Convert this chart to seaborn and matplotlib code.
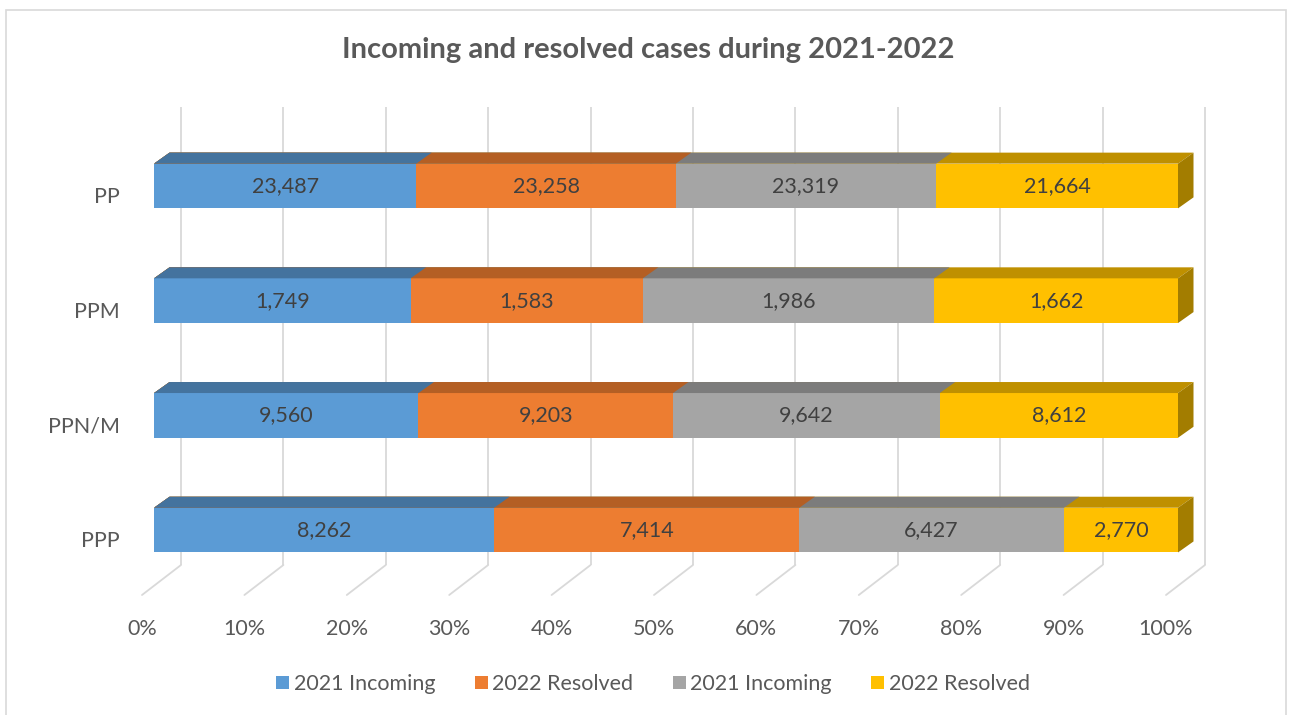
import numpy as np
import pandas as pd
import seaborn as sns
import matplotlib.pyplot as plt
import matplotlib.transforms as mtransforms
from matplotlib.patches import Polygon, Rectangle

categories = ['PP', 'PPM', 'PPN/M', 'PPP']
series_names = ['2021 Incoming', '2022 Resolved', '2021 Incoming', '2022 Resolved']
incoming_2021 = [23487, 1749, 9560, 8262]
resolved_2022 = [23258, 1583, 9203, 7414]
incoming_2021_b = [23319, 1986, 9642, 6427]
resolved_2022_b = [21664, 1662, 8612, 2770]
x_ticks = [0, 0.1, 0.2, 0.3, 0.4, 0.5, 0.6, 0.7, 0.8, 0.9, 1.0]
x_ticklabels = ['0%', '10%', '20%', '30%', '40%', '50%', '60%', '70%', '80%', '90%', '100%']

front_colors = ['#5B9BD5', '#ED7D31', '#A5A5A5', '#FFC000']
top_colors = ['#44739E', '#B45F24', '#7C7C7C', '#BF9000']
side_color = '#A37D00'
grid_color = '#D9D9D9'

sns.set_style('white')
plt.rcParams['font.family'] = ['Lato', 'DejaVu Sans']

vals = np.array([incoming_2021, resolved_2022, incoming_2021_b, resolved_2022_b], dtype=float).T
pct = vals / vals.sum(axis=1, keepdims=True)
cum = pct.cumsum(axis=1)
df = pd.DataFrame(cum, columns=['s0', 's1', 's2', 's3'])
df['cat'] = categories

#%% layout (pixels)
W, H = 1289, 715
px_cat = 114.7          # pixels between category rows
y0_px = 186             # screen y of first row centre
y_top, y_bot = -0.72, 3.62
ax_top_px = y0_px + y_top * px_cat
ax_bot_px = y0_px + y_bot * px_cat

fig = plt.figure(figsize=(W / 100, H / 100), dpi=100)
ax = fig.add_axes([154 / W, 1 - ax_bot_px / H, 1024 / W, (ax_bot_px - ax_top_px) / H])

def dx(px):
    return px / 1024.0

def dy(px):  # px upwards on screen -> data (inverted axis)
    return -px / px_cat

depth = (15.5, 11)      # bar depth
back = (27, 21)         # back wall offset from bar front
floor = (-12, -9)       # floor front edge offset

# stacked bars, largest cumulative first
for k in reversed(range(4)):
    n0 = len(ax.patches)
    sns.barplot(data=df, x='s%d' % k, y='cat', orient='h', color=front_colors[k],
                saturation=1, width=0.39, ax=ax, zorder=3)
    for p in ax.patches[n0:]:
        p.set_edgecolor('none')
        x0, yy, w, h = p.get_x(), p.get_y(), p.get_width(), p.get_height()
        top = yy
        poly = [(x0, top), (x0 + w, top), (x0 + w + dx(depth[0]), top + dy(depth[1])),
                (x0 + dx(depth[0]), top + dy(depth[1]))]
        ax.add_patch(Polygon(poly, closed=True, facecolor=top_colors[k], edgecolor='none',
                             zorder=3, clip_on=False))
        if k == 3:
            bot = yy + h
            side = [(x0 + w, top), (x0 + w, bot), (x0 + w + dx(depth[0]), bot + dy(depth[1])),
                    (x0 + w + dx(depth[0]), top + dy(depth[1]))]
            ax.add_patch(Polygon(side, closed=True, facecolor=side_color, edgecolor='none',
                                 zorder=3, clip_on=False))

# value labels
for i in range(len(categories)):
    for k in range(4):
        left = cum[i, k - 1] if k > 0 else 0
        ax.text(left + pct[i, k] / 2, i, f'{int(vals[i, k]):,}', ha='center', va='center',
                fontsize=15.5, color='#404040', zorder=5)

# back-wall gridlines and floor
g_top = (106.7 - y0_px) / px_cat
g_bot = (565 - y0_px) / px_cat
for t in x_ticks:
    xb = t + dx(back[0])
    ax.plot([xb, xb], [g_top, g_bot], color=grid_color, lw=1.3, zorder=1,
            solid_capstyle='butt', clip_on=False)
    ax.plot([xb, t + dx(floor[0])], [g_bot, g_bot - dy(back[1] - floor[1])],
            color=grid_color, lw=1.3, zorder=1, clip_on=False)

ax.set_xlim(0, 1)
ax.set_ylim(y_bot, y_top)
ax.set_xlabel('')
ax.set_ylabel('')
ax.set_xticks(x_ticks)
ax.set_xticklabels(x_ticklabels)
ax.tick_params(axis='x', length=0, pad=12.5, labelsize=15.5, labelcolor='#595959')
ax.tick_params(axis='y', length=0, pad=16, labelsize=15.5, labelcolor='#595959')
for s in ax.spines.values():
    s.set_visible(False)

shift_x = mtransforms.ScaledTranslation(floor[0] / 100, 0, fig.dpi_scale_trans)
for lab in ax.get_xticklabels():
    lab.set_transform(lab.get_transform() + shift_x)
shift_y = mtransforms.ScaledTranslation(floor[0] / 100, floor[1] / 100, fig.dpi_scale_trans)
for lab in ax.get_yticklabels():
    lab.set_transform(lab.get_transform() + shift_y)

fig.text(648 / W, 1 - 50 / H, 'Incoming and resolved cases during 2021-2022', ha='center', va='center',
         fontsize=21, fontweight='bold', color='#595959')

handles = [Rectangle((0, 0), 1, 1, facecolor=c, edgecolor='none') for c in front_colors]
leg = fig.legend(handles, series_names, loc='center', bbox_to_anchor=(653 / W, 1 - 684 / H), ncol=4,
                 frameon=False, fontsize=15.5, handlelength=0.6, handleheight=0.6,
                 handletextpad=0.2, columnspacing=1.85)
for txt in leg.get_texts():
    txt.set_color('#595959')

# chart frame
fig.patches.append(Rectangle((6 / W, -0.05), 1280 / W, 1.05 - 10 / H, transform=fig.transFigure,
                             fill=False, edgecolor=grid_color, lw=1.2))

fig.savefig('out.png', dpi=100)
